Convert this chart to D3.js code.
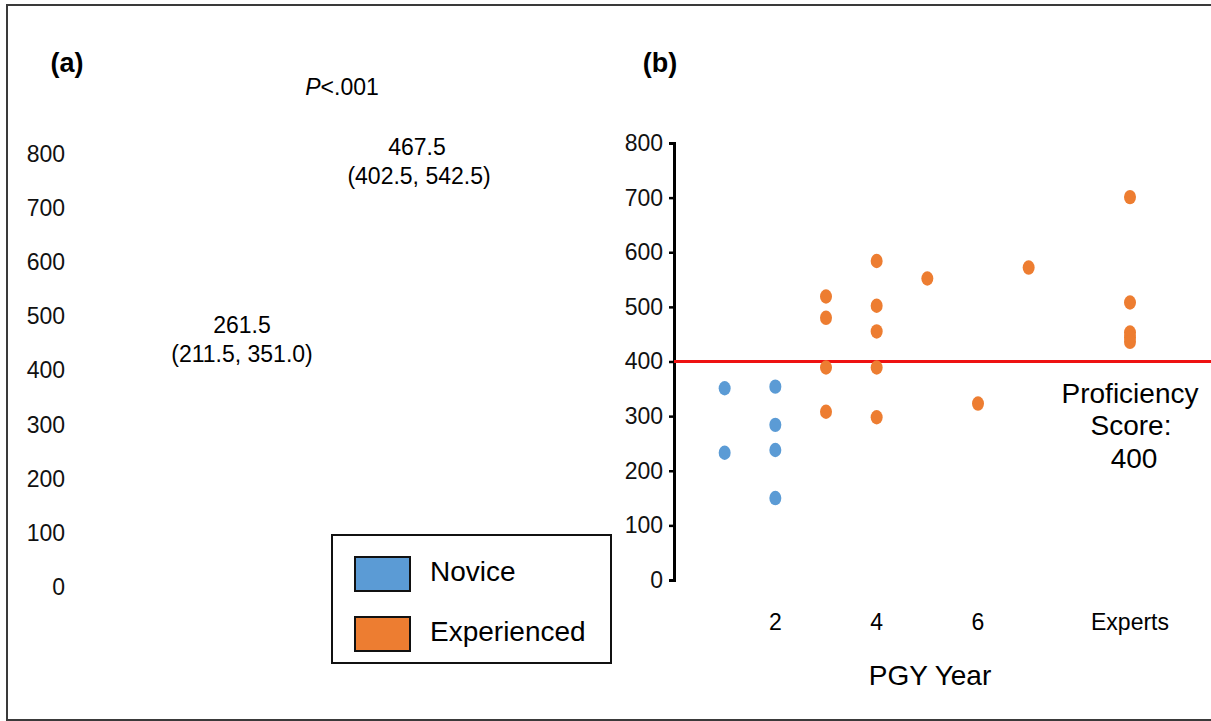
<!DOCTYPE html>
<html>
<head>
<meta charset="utf-8">
<script src="https://cdn.jsdelivr.net/npm/d3@7/dist/d3.min.js"></script>
<style>
  html, body { margin: 0; padding: 0; background: #fff; }
  svg { display: block; font-family: "Liberation Sans", Arial, sans-serif; }
</style>
</head>
<body>
<svg id="chart" width="1211" height="721"></svg>
<script>
(function () {
  'use strict';

  // ── Data ────────────────────────────────────────────────────────────────
  // panel (a): median (IQR) per group
  const groups   = ['Novice', 'Experienced'];
  const medians  = [261.5, 467.5];
  const q1s      = [211.5, 402.5];
  const q3s      = [351.0, 542.5];
  const pText    = '<.001';

  // panel (b): score by PGY year (9 = Experts)
  const noviceYear       = [1, 1, 2, 2, 2, 2];
  const noviceScore      = [351, 233, 354, 284, 238, 150];
  const experiencedYear  = [3, 3, 3, 3, 4, 4, 4, 4, 4, 5, 6, 7, 9, 9, 9, 9, 9];
  const experiencedScore = [519, 480, 389, 308, 584, 502, 455, 389, 298, 552, 323, 572, 701, 508, 453, 444, 436];

  const yTicks      = [0, 100, 200, 300, 400, 500, 600, 700, 800];
  const xTicks      = [2, 4, 6, 9];
  const xTickLabels = ['2', '4', '6', 'Experts'];
  const proficiency = 400;

  const COLORS = { Novice: '#5b9bd5', Experienced: '#ed7d31' };

  const svg = d3.select('#chart');

  // outer frame
  svg.append('rect')
    .attr('x', 7).attr('y', 5).attr('width', 1215).attr('height', 715)
    .attr('fill', 'none').attr('stroke', '#3a3a3a').attr('stroke-width', 2);

  // ── Panel (a) ───────────────────────────────────────────────────────────
  const ya = d3.scaleLinear().domain([0, 800]).range([587, 154]);
  const xa = d3.scalePoint().domain(groups).range([242, 417]);

  svg.append('text').attr('x', 67).attr('y', 63).attr('dy', '0.35em')
    .attr('text-anchor', 'middle').attr('font-size', 27).attr('font-weight', 'bold')
    .text('(a)');

  const pLab = svg.append('text').attr('x', 342).attr('y', 95)
    .attr('text-anchor', 'middle').attr('font-size', 23);
  pLab.append('tspan').attr('font-style', 'italic').text('P');
  pLab.append('tspan').text(pText);

  const axA = svg.append('g').attr('transform', 'translate(65,0)')
    .call(d3.axisLeft(ya).tickValues(yTicks).tickSize(0).tickPadding(0).tickFormat(d3.format('d')));
  axA.select('.domain').remove();
  axA.selectAll('text').attr('font-size', 23).attr('font-family', null).attr('fill', '#111');

  // median / IQR annotations; experienced sits higher in the figure
  const annoY = [325, 147];
  groups.forEach((g, i) => {
    svg.append('text').attr('x', xa(g)).attr('y', annoY[i]).attr('dy', '0.35em')
      .attr('text-anchor', 'middle').attr('font-size', 23)
      .text(medians[i].toFixed(1));
    svg.append('text').attr('x', xa(g) + (i ? 2 : 0)).attr('y', annoY[i] + 29).attr('dy', '0.35em')
      .attr('text-anchor', 'middle').attr('font-size', 23)
      .text(`(${q1s[i].toFixed(1)}, ${q3s[i].toFixed(1)})`);
  });

  // legend
  const leg = svg.append('g').attr('transform', 'translate(332,535)');
  leg.append('rect').attr('width', 279).attr('height', 128)
    .attr('fill', '#fff').attr('stroke', '#111').attr('stroke-width', 2);
  groups.forEach((g, i) => {
    const row = leg.append('g').attr('transform', `translate(23,${22 + i * 60})`);
    row.append('rect').attr('width', 55).attr('height', 34)
      .attr('fill', COLORS[g]).attr('stroke', '#111').attr('stroke-width', 2);
    row.append('text').attr('x', 75).attr('y', 14).attr('dy', '0.35em')
      .attr('font-size', 28).text(g);
  });

  // ── Panel (b) ───────────────────────────────────────────────────────────
  const yb = d3.scaleLinear().domain([0, 800]).range([580, 143]);
  const xb = d3.scaleLinear().domain([0, 9]).range([674, 1130]);

  svg.append('text').attr('x', 660).attr('y', 63).attr('dy', '0.35em')
    .attr('text-anchor', 'middle').attr('font-size', 27).attr('font-weight', 'bold')
    .text('(b)');

  const axB = svg.append('g').attr('transform', `translate(${xb(0)},0)`)
    .call(d3.axisLeft(yb).tickValues(yTicks).tickSize(5).tickPadding(6).tickFormat(d3.format('d')));
  axB.select('.domain').attr('stroke', '#000').attr('stroke-width', 3);
  axB.selectAll('.tick line').attr('stroke', '#000').attr('stroke-width', 2.5);
  axB.selectAll('text').attr('font-size', 23).attr('font-family', null).attr('fill', '#111');

  // x tick labels (no axis line)
  svg.append('g').selectAll('text').data(xTicks).join('text')
    .attr('x', d => xb(d)).attr('y', 622).attr('dy', '0.35em')
    .attr('text-anchor', 'middle')
    .attr('font-size', 23)
    .text((d, i) => xTickLabels[i]);

  svg.append('text').attr('x', 930).attr('y', 675).attr('dy', '0.35em')
    .attr('text-anchor', 'middle').attr('font-size', 28).text('PGY Year');

  // proficiency line
  svg.append('line')
    .attr('x1', xb(0)).attr('x2', 1211)
    .attr('y1', yb(proficiency)).attr('y2', yb(proficiency))
    .attr('stroke', '#ee1111').attr('stroke-width', 3);

  const prof = svg.append('g').attr('font-size', 28).attr('text-anchor', 'middle');
  prof.append('text').attr('x', 1130).attr('y', 393).attr('dy', '0.35em').text('Proficiency');
  prof.append('text').attr('x', 1131).attr('y', 425).attr('dy', '0.35em').text('Score:');
  prof.append('text').attr('x', 1134).attr('y', 458).attr('dy', '0.35em').text(String(proficiency));

  // points
  const series = [
    { name: 'Novice', x: noviceYear, y: noviceScore },
    { name: 'Experienced', x: experiencedYear, y: experiencedScore }
  ];
  series.forEach(s => {
    svg.append('g').selectAll('ellipse').data(s.x.map((x, i) => [x, s.y[i]])).join('ellipse')
      .attr('cx', d => xb(d[0])).attr('cy', d => yb(d[1]))
      .attr('rx', 6).attr('ry', 7.2)
      .attr('fill', COLORS[s.name]);
  });
})();
</script>
</body>
</html>
